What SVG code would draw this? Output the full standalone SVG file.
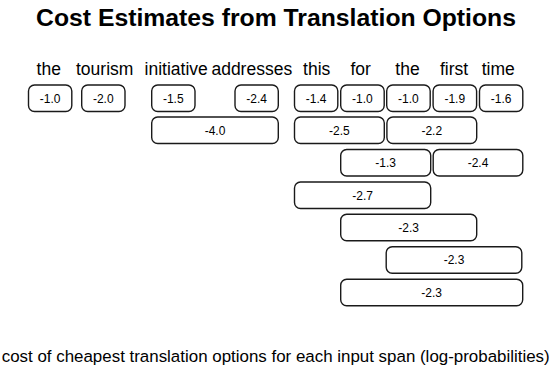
<svg xmlns="http://www.w3.org/2000/svg" width="557" height="368" viewBox="0 0 557 368">
<style>
.bg{fill:#fff}
.title{font-family:"Liberation Sans",Arial,sans-serif;font-weight:bold;font-size:24.7px;fill:#000}
.word{font-family:"Liberation Sans",Arial,sans-serif;font-size:17.5px;fill:#000;text-anchor:middle}
.box rect{fill:#fff;stroke:#1a1a1a;stroke-width:1.4}
.box text{font-family:"Liberation Sans",Arial,sans-serif;font-size:12px;fill:#000;text-anchor:middle}
.foot{font-family:"Liberation Sans",Arial,sans-serif;font-size:16.9px;fill:#000}
</style>
<rect class="bg" x="0" y="0" width="557" height="368"/>
<text id="title" class="title" x="36" y="26" textLength="480" lengthAdjust="spacingAndGlyphs">Cost Estimates from Translation Options</text>
<g id="words">
<text class="word" x="48.7" y="74.5">the</text>
<text class="word" x="104.7" y="74.5">tourism</text>
<text class="word" x="176.2" y="74.5">initiative</text>
<text class="word" x="251.8" y="74.5">addresses</text>
<text class="word" x="316.7" y="74.5">this</text>
<text class="word" x="360.7" y="74.5">for</text>
<text class="word" x="407.5" y="74.5">the</text>
<text class="word" x="454" y="74.5">first</text>
<text class="word" x="498.2" y="74.5">time</text>
</g>
<g id="n-the" class="box"><rect x="28.5" y="85" width="43.3" height="26.5" rx="6"/><text x="50.1" y="102.6">-1.0</text></g>
<g id="n-tourism" class="box"><rect x="81.7" y="85" width="43.3" height="26.5" rx="6"/><text x="103.3" y="102.6">-2.0</text></g>
<g id="n-initiative" class="box"><rect x="151.7" y="85" width="43.3" height="26.5" rx="6"/><text x="173.3" y="102.6">-1.5</text></g>
<g id="n-addresses" class="box"><rect x="235" y="85" width="43.3" height="26.5" rx="6"/><text x="256.7" y="102.6">-2.4</text></g>
<g id="n-this" class="box"><rect x="294.5" y="85" width="43.3" height="26.5" rx="6"/><text x="316.1" y="102.6">-1.4</text></g>
<g id="n-for" class="box"><rect x="340.7" y="85" width="43.5" height="26.5" rx="6"/><text x="362.4" y="102.6">-1.0</text></g>
<g id="n-the2" class="box"><rect x="386.7" y="85" width="43.5" height="26.5" rx="6"/><text x="408.4" y="102.6">-1.0</text></g>
<g id="n-first" class="box"><rect x="433.1" y="85" width="43.5" height="26.5" rx="6"/><text x="454.8" y="102.6">-1.9</text></g>
<g id="n-time" class="box"><rect x="479.5" y="85" width="43.3" height="26.5" rx="6"/><text x="501.1" y="102.6">-1.6</text></g>
<g id="n-initiative-addresses" class="box"><rect x="151.7" y="117" width="126.6" height="26.5" rx="6"/><text x="215" y="134.6">-4.0</text></g>
<g id="n-this-for" class="box"><rect x="294.5" y="117" width="89.8" height="26.5" rx="6"/><text x="339.4" y="134.6">-2.5</text></g>
<g id="n-the-first" class="box"><rect x="386.9" y="117" width="89.8" height="26.5" rx="6"/><text x="431.8" y="134.6">-2.2</text></g>
<g id="n-for-the" class="box"><rect x="340.7" y="149.5" width="90" height="26.5" rx="6"/><text x="385.7" y="167.1">-1.3</text></g>
<g id="n-first-time" class="box"><rect x="433.2" y="149.5" width="89.6" height="26.5" rx="6"/><text x="478" y="167.1">-2.4</text></g>
<g id="n-this-the" class="box"><rect x="294.5" y="182" width="136.2" height="26.5" rx="6"/><text x="362.6" y="199.6">-2.7</text></g>
<g id="n-for-first" class="box"><rect x="340.7" y="214.3" width="136" height="26.5" rx="6"/><text x="408.7" y="231.9">-2.3</text></g>
<g id="n-the-time" class="box"><rect x="386.2" y="246.8" width="135.6" height="26.5" rx="6"/><text x="454" y="264.4">-2.3</text></g>
<g id="n-for-time" class="box"><rect x="340.7" y="279.2" width="182" height="26.5" rx="6"/><text x="431.7" y="296.8">-2.3</text></g>
<text id="footer" class="foot" x="1.7" y="361.5" textLength="548" lengthAdjust="spacingAndGlyphs">cost of cheapest translation options for each input span (log-probabilities)</text>
</svg>
